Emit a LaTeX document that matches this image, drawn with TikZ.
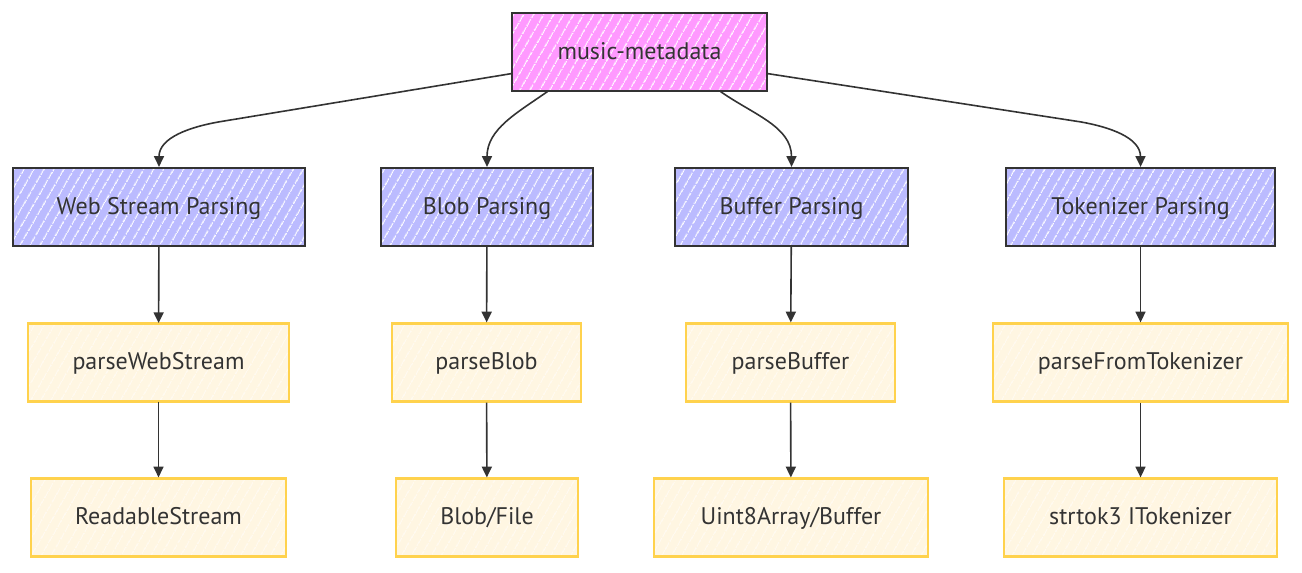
\documentclass[tikz,border=0pt]{standalone}
\usepackage{fontspec}
\setmainfont{PT Sans}
\usetikzlibrary{arrows.meta,patterns.meta,calc}
\definecolor{ink}{HTML}{333333}
\definecolor{pinkf}{HTML}{FF99FF}
\definecolor{bluef}{HTML}{BBBBFF}
\definecolor{creamf}{HTML}{FFF6E2}
\definecolor{golde}{HTML}{FFD24D}
\begin{document}
\begin{tikzpicture}[x=0.75pt,y=-0.75pt,
  base/.style={line width=1.7pt, minimum height=58.5pt, inner sep=0pt, text=ink,
    text height=13pt, text depth=2pt,
    font=\fontsize{18}{21}\selectfont},
  bw/.style={minimum width={#1*0.75pt}},
  rootbox/.style={base, draw=ink, preaction={fill=pinkf},
    pattern={Lines[angle=60,distance=6.5pt,line width=0.9pt]}, pattern color=white},
  groupbox/.style={base, draw=ink, preaction={fill=bluef},
    pattern={Lines[angle=60,distance=6.5pt,line width=0.9pt]}, pattern color=white},
  itembox/.style={base, draw=golde, preaction={fill=creamf},
    pattern={Lines[angle=60,distance=6.5pt,line width=0.7pt]}, pattern color=white!60!creamf},
  arr/.style={draw=ink, line width=1.2pt, -{Triangle[length=8pt,width=7.5pt]}}
]
\useasboundingbox (0,0) rectangle (1302,572);

\node[rootbox,bw=255] (mm) at (639.5,52) {music-metadata};

\node[groupbox,bw=292] (wsp) at (159,207) {Web Stream Parsing};
\node[groupbox,bw=212] (blp) at (487,207) {Blob Parsing};
\node[groupbox,bw=233] (bfp) at (791.5,207) {Buffer Parsing};
\node[groupbox,bw=269] (tkp) at (1140.5,207) {Tokenizer Parsing};

\node[itembox,bw=261] (pws) at (158.5,362.5) {parseWebStream};
\node[itembox,bw=189] (pbl) at (486.5,362.5) {parseBlob};
\node[itembox,bw=209] (pbf) at (790.5,362.5) {parseBuffer};
\node[itembox,bw=295] (pft) at (1140.5,362.5) {parseFromTokenizer};

\node[itembox,bw=255] (rs) at (158.5,517.5) {ReadableStream};
\node[itembox,bw=182] (bf) at (487,517.5) {Blob/File};
\node[itembox,bw=274] (ua) at (791,517.5) {Uint8Array/Buffer};
\node[itembox,bw=273] (st) at (1140.5,517.5) {strtok3 ITokenizer};

\coordinate (s1) at ($(mm.south west)+(0,-18)$);
\coordinate (s2) at ($(mm.south west)+(36,0)$);
\coordinate (s3) at ($(mm.south east)+(-47,0)$);
\coordinate (s4) at ($(mm.south east)+(0,-18)$);

\draw[arr] (s1) -- ($(wsp.north)+(60,-45)$) to[out=190,in=90] (wsp.north);
\draw[arr] (s2) to[out=215,in=90] (blp.north);
\draw[arr] (s3) to[out=-35,in=90] (bfp.north);
\draw[arr] (s4) -- ($(tkp.north)+(-60,-45)$) to[out=-10,in=90] (tkp.north);

\draw[arr] (wsp) -- (pws);
\draw[arr] (blp) -- (pbl);
\draw[arr] (bfp) -- (pbf);
\draw[arr] (tkp) -- (pft);

\draw[arr] (pws) -- (rs);
\draw[arr] (pbl) -- (bf);
\draw[arr] (pbf) -- (ua);
\draw[arr] (pft) -- (st);
\end{tikzpicture}
\end{document}
